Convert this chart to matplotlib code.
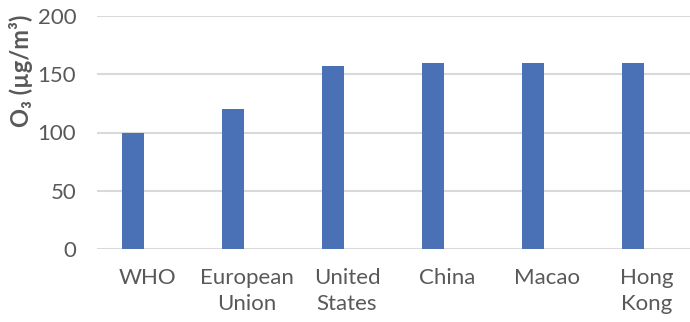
import numpy as np
import matplotlib.pyplot as plt

plt.rcParams['font.family'] = ['Lato', 'DejaVu Sans']

categorias = ['WHO', 'European\nUnion', 'United\nStates', 'China', 'Macao', 'Hong\nKong']
o3_valores = [100, 120, 157, 160, 160, 160]
y_ticks = [0, 50, 100, 150, 200]

gris = '#595959'
azul = '#4A71B5'

fig = plt.figure(figsize=(6.9, 3.22), dpi=100)
ax = fig.add_axes([97/690, 1 - 249/322, 600/690, 233/322])

x = np.arange(len(categorias))
# barra desplazada a la izquierda (segunda serie vacia en el original)
ax.bar(x - 0.14, o3_valores, width=0.22, color=azul, zorder=3)

ax.set_xlim(-0.5, len(categorias) - 0.5)
ax.set_ylim(0, 200)
ax.set_yticks(y_ticks)
ax.set_xticks(x)
ax.set_xticklabels(categorias, fontsize=16, color=gris, linespacing=1.35)
ax.tick_params(axis='y', labelsize=16, labelcolor=gris, length=0, pad=15)
ax.tick_params(axis='x', length=0, pad=14)
ax.grid(axis='y', color='#D9D9D9', linewidth=1.5, zorder=0)
for s in ax.spines.values():
    s.set_visible(False)

ax.set_ylabel('O₃ (µg/m³)', fontsize=17, fontweight='bold', color=gris)
ax.yaxis.set_label_coords(-0.107, 0.765)

fig.savefig('out.png', dpi=100)
